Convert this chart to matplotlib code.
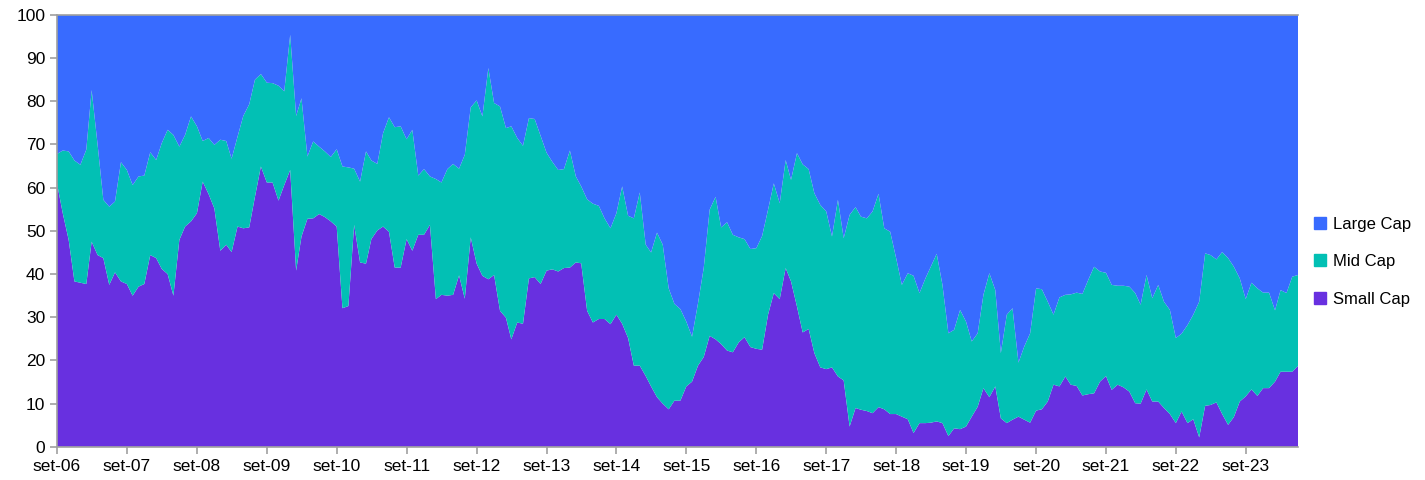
import numpy as np
import pandas as pd
import matplotlib
matplotlib.use("Agg")
import matplotlib.pyplot as plt
from matplotlib.patches import Patch

plt.rcParams['font.family'] = ['Liberation Sans', 'DejaVu Sans']

# monthly shares (%), sep-06 .. jun-24
small = [
    61.0, 54.1, 47.9, 38.3, 38.0, 37.7, 47.5, 44.4, 43.7, 37.5, 40.4, 38.3,
    37.7, 35.0, 37.1, 37.7, 44.4, 43.7, 41.2, 40.0, 35.0, 47.9, 51.0, 52.2,
    54.1, 61.4, 58.5, 55.2, 45.4, 46.8, 45.1, 51.0, 50.6, 50.8, 57.9, 64.9,
    61.2, 61.2, 57.0, 60.6, 64.1, 40.8, 48.7, 52.8, 52.9, 53.9, 53.2, 52.2,
    51.0, 32.1, 32.6, 51.4, 42.7, 42.4, 48.1, 50.1, 51.0, 49.8, 41.5, 41.5,
    48.1, 45.4, 49.1, 49.1, 51.4, 34.2, 35.2, 35.0, 35.2, 39.7, 34.3, 48.5,
    42.4, 39.6, 38.8, 39.8, 31.5, 29.9, 24.9, 28.8, 28.5, 39.0, 39.3, 37.7,
    40.8, 41.1, 40.6, 41.4, 41.5, 42.7, 42.5, 31.5, 28.8, 29.6, 29.6, 28.4,
    30.6, 28.5, 25.2, 18.8, 18.8, 16.4, 14.0, 11.5, 10.0, 8.7, 10.7, 10.7,
    14.0, 15.1, 18.8, 20.8, 25.7, 24.9, 23.8, 22.3, 21.9, 24.2, 25.4, 23.1,
    22.7, 22.5, 30.6, 35.6, 34.2, 41.4, 38.3, 32.5, 26.5, 27.3, 21.7, 18.4,
    18.0, 18.4, 16.3, 15.4, 4.7, 9.0, 8.6, 8.3, 7.8, 9.2, 8.7, 7.6,
    7.6, 7.0, 6.4, 3.2, 5.5, 5.5, 5.6, 5.9, 5.5, 2.5, 4.3, 4.1,
    4.7, 7.0, 9.3, 13.6, 11.5, 14.0, 6.6, 5.5, 6.3, 7.0, 6.3, 5.6,
    8.4, 8.7, 10.5, 14.4, 14.0, 16.3, 14.4, 14.1, 11.9, 12.2, 12.4, 15.1,
    16.4, 13.2, 14.4, 13.8, 12.8, 10.1, 10.0, 13.3, 10.5, 10.5, 9.0, 7.6,
    5.5, 8.2, 5.5, 6.4, 2.2, 9.5, 9.7, 10.3, 7.6, 5.1, 6.9, 10.5,
    11.7, 13.3, 11.8, 13.6, 13.6, 15.1, 17.4, 17.4, 17.4, 18.8,
]
mid = [
    6.8, 14.5, 20.5, 28.0, 27.3, 31.1, 35.1, 25.6, 13.5, 18.1, 16.4, 27.6,
    26.4, 25.6, 25.5, 25.1, 23.8, 22.7, 29.1, 33.4, 37.2, 21.6, 21.2, 24.3,
    20.1, 9.4, 13.0, 14.7, 25.7, 24.0, 21.6, 20.8, 26.0, 28.5, 27.1, 21.4,
    23.1, 23.0, 26.6, 21.7, 31.3, 35.8, 32.0, 14.4, 17.8, 15.6, 15.2, 14.9,
    17.9, 32.8, 32.1, 13.0, 18.7, 26.0, 18.2, 15.4, 21.6, 26.5, 32.5, 32.7,
    23.1, 28.0, 13.7, 15.2, 11.2, 27.8, 26.0, 29.3, 30.3, 24.7, 33.3, 30.1,
    37.8, 36.9, 48.9, 39.8, 47.3, 43.9, 49.3, 42.7, 41.2, 37.1, 36.6, 34.3,
    27.3, 24.9, 23.5, 22.9, 27.1, 19.9, 17.8, 25.8, 27.5, 26.2, 23.3, 22.2,
    23.5, 31.8, 28.3, 34.1, 40.1, 30.4, 31.0, 38.1, 36.8, 28.0, 22.4, 21.2,
    15.0, 10.4, 14.4, 20.6, 29.2, 33.0, 27.0, 29.7, 27.2, 24.3, 22.7, 22.7,
    23.3, 26.3, 24.3, 25.4, 22.2, 25.0, 23.5, 35.5, 38.9, 37.0, 37.0, 37.6,
    36.5, 30.3, 40.9, 32.9, 49.0, 46.5, 44.7, 44.6, 46.7, 49.4, 41.9, 42.2,
    36.1, 30.5, 33.8, 36.4, 30.1, 33.5, 36.1, 38.8, 32.0, 23.8, 22.8, 27.6,
    24.3, 17.4, 17.0, 21.6, 28.7, 22.3, 15.1, 25.1, 25.8, 12.5, 16.9, 20.7,
    28.3, 27.8, 23.1, 16.2, 20.6, 18.9, 20.9, 21.6, 23.5, 26.5, 29.3, 25.5,
    23.9, 24.3, 22.9, 23.5, 24.3, 25.5, 22.9, 26.5, 23.9, 27.0, 24.6, 24.1,
    19.7, 18.0, 22.7, 24.2, 31.4, 35.3, 34.7, 33.1, 37.5, 38.6, 34.8, 28.5,
    22.5, 24.7, 24.9, 22.1, 22.1, 16.5, 18.9, 18.2, 22.0, 21.0,
]
large = [round(100 - s - m, 1) for s, m in zip(small, mid)]

series_names = ["Small Cap", "Mid Cap", "Large Cap"]
colors = ["#6830E0", "#02C0B4", "#386BFF"]

dates = pd.date_range("2006-09-01", periods=len(small), freq="MS")
tick_dates = pd.date_range("2006-09-01", "2023-09-01", freq="12MS")
tick_labels = ["set-%02d" % (d.year % 100) for d in tick_dates]

fig = plt.figure(figsize=(14.25, 4.8), dpi=100)
ax = fig.add_axes([0.040, 0.069, 0.871, 0.900])

ax.stackplot(dates, small, mid, large, colors=colors, linewidth=0)

ax.set_xlim(dates[0], dates[-1])
ax.set_ylim(0, 100)
ax.set_yticks(np.arange(0, 101, 10))
ax.set_xticks(tick_dates)
ax.set_xticklabels(tick_labels)

for side in ["left", "bottom", "top"]:
    ax.spines[side].set_color("#a0a0a0")
    ax.spines[side].set_linewidth(1.2)
ax.spines["right"].set_visible(False)
ax.tick_params(axis="both", colors="#a0a0a0", labelcolor="black", labelsize=12.5,
               length=5, width=1.2)
ax.tick_params(axis="x", pad=4)

handles = [Patch(color=c, label=n) for c, n in zip(colors, series_names)][::-1]
fig.legend(handles=handles, loc="center left", bbox_to_anchor=(0.922, 0.455),
           frameon=False, fontsize=12, handlelength=0.7, handleheight=0.7,
           handletextpad=0.45, labelspacing=1.35, borderaxespad=0, borderpad=0)

fig.savefig("out.png", dpi=100)
